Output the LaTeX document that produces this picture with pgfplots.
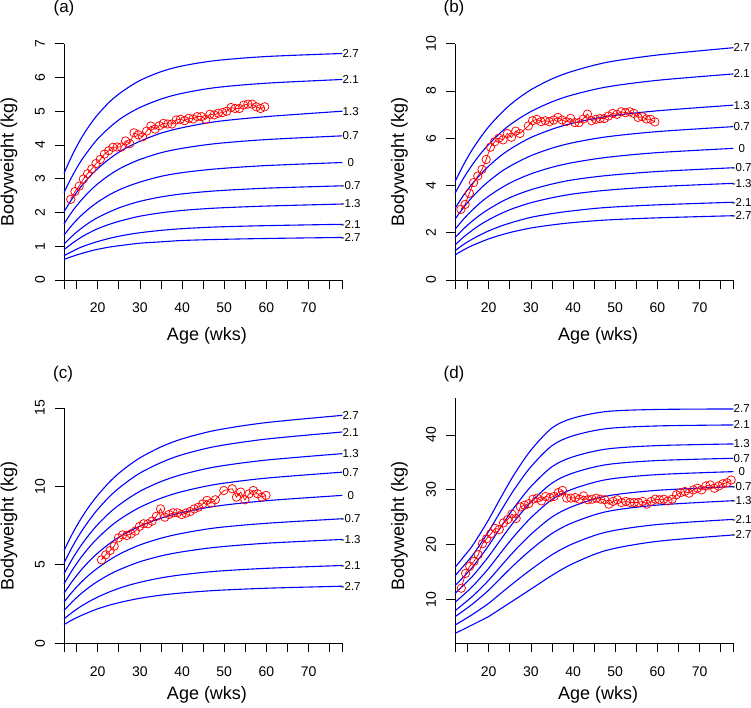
\documentclass[border=0pt]{standalone}
\usepackage{fontspec}
\setmainfont{Liberation Sans}
\usepackage{pgfplots}
\pgfplotsset{compat=1.18}

\tikzset{zl/.style={pos=1, anchor=center, xshift=8.4pt, text=black, font=\fontsize{11.5}{11.5}\selectfont}}
\pgfplotsset{
  panel/.style={
    scale only axis,
    width=278.3pt,
    anchor=south west,
    xmin=12, xmax=78,
    axis x line*=bottom, axis y line*=left,
    axis line style={-, line width=0.8pt, black},
    tick align=outside,
    major tick length=9pt,
    every tick/.style={black, line width=0.8pt},
    xtick={20,30,...,70},
    extra x ticks={12,15,25,35,45,55,65,75,78},
    extra x tick labels={},
    /pgf/number format/assume math mode=true,
    ticklabel style={font=\fontsize{14}{14}\selectfont},
    xticklabel style={anchor=center, yshift=-19pt},
    yticklabel style={xshift=-15pt, rotate=90, anchor=center},
    clip=false,
  },
  zc/.style={blue, line width=1.1pt, smooth, no markers},
  obs/.style={red, line width=0.75pt, mark=o, mark size=4.2pt, mark options={solid, line width=0.75pt}},
}

\begin{document}
\begin{tikzpicture}[x=1pt,y=1pt]
\path[use as bounding box] (0,0) rectangle (751,708);

% ---------------- (a)
\begin{axis}[panel, at={(64pt,428pt)}, height=236.3pt, ymin=0, ymax=7, ytick={0,1,...,7}]
\addplot[zc] coordinates {(12,3.16) (14,3.71) (16,4.18) (18,4.57) (20,4.90) (23,5.30) (26,5.60) (30,5.91) (35,6.17) (40,6.34) (48,6.50) (60,6.62) (78,6.71)} node[zl]{2.7};
\addplot[zc] coordinates {(12,2.59) (14,3.09) (16,3.52) (18,3.87) (20,4.18) (23,4.54) (26,4.83) (30,5.11) (35,5.36) (40,5.53) (48,5.70) (60,5.83) (78,5.94)} node[zl]{2.1};
\addplot[zc] coordinates {(12,2.02) (14,2.42) (16,2.76) (18,3.05) (20,3.30) (23,3.61) (26,3.86) (30,4.11) (35,4.35) (40,4.51) (48,4.69) (60,4.84) (78,5.00)} node[zl]{1.3};
\addplot[zc] coordinates {(12,1.66) (14,2.04) (16,2.35) (18,2.62) (20,2.85) (23,3.13) (26,3.35) (30,3.57) (35,3.77) (40,3.90) (48,4.04) (60,4.16) (78,4.27)} node[zl]{0.7};
\addplot[zc] coordinates {(12,1.33) (14,1.64) (16,1.90) (18,2.12) (20,2.31) (23,2.54) (26,2.72) (30,2.90) (35,3.07) (40,3.18) (48,3.29) (60,3.39) (78,3.48)} node[zl]{0};
\addplot[zc] coordinates {(12,1.06) (14,1.31) (16,1.52) (18,1.70) (20,1.85) (23,2.03) (26,2.18) (30,2.33) (35,2.46) (40,2.55) (48,2.64) (60,2.72) (78,2.79)} node[zl]{-0.7};
\addplot[zc] coordinates {(12,0.90) (14,1.09) (16,1.26) (18,1.40) (20,1.52) (23,1.66) (26,1.77) (30,1.89) (35,1.99) (40,2.06) (48,2.13) (60,2.19) (78,2.25)} node[zl]{-1.3};
\addplot[zc] coordinates {(12,0.72) (14,0.85) (16,0.97) (18,1.06) (20,1.14) (23,1.24) (26,1.32) (30,1.40) (35,1.47) (40,1.52) (48,1.57) (60,1.61) (78,1.65)} node[zl]{-2.1};
\addplot[zc] coordinates {(12,0.61) (14,0.70) (16,0.78) (18,0.85) (20,0.91) (23,0.98) (26,1.03) (30,1.09) (35,1.13) (40,1.17) (48,1.20) (60,1.23) (78,1.26)} node[zl]{-2.7};
\addplot[obs] coordinates {(13.6,2.39) (14.6,2.62) (15.6,2.78) (16.6,2.99) (17.6,3.15) (18.6,3.29) (19.6,3.45) (20.6,3.57) (21.6,3.73) (22.6,3.83) (23.6,3.93) (24.6,3.94) (25.6,3.94) (26.6,4.12) (27.6,4.04) (28.6,4.36) (29.6,4.30) (30.6,4.24) (31.6,4.41) (32.6,4.56) (33.6,4.47) (34.6,4.57) (35.6,4.64) (36.6,4.62) (37.6,4.62) (38.6,4.74) (39.6,4.76) (40.6,4.72) (41.6,4.79) (42.6,4.77) (43.6,4.84) (44.6,4.84) (45.6,4.76) (46.6,4.91) (47.6,4.89) (48.6,4.94) (49.6,4.96) (50.6,5.00) (51.6,5.11) (52.6,5.08) (53.6,5.08) (54.6,5.18) (55.6,5.21) (56.6,5.21) (57.6,5.13) (58.6,5.08) (59.6,5.13)};
\end{axis}

% ---------------- (b)
\begin{axis}[panel, at={(455pt,428pt)}, height=236.3pt, ymin=0, ymax=10, ytick={0,2,...,10}]
\addplot[zc] coordinates {(12,4.16) (14,4.87) (16,5.49) (18,6.02) (20,6.49) (23,7.07) (26,7.55) (30,8.05) (35,8.51) (40,8.84) (48,9.21) (60,9.52) (78,9.83)} node[zl]{2.7};
\addplot[zc] coordinates {(12,3.67) (14,4.30) (16,4.85) (18,5.33) (20,5.74) (23,6.27) (26,6.69) (30,7.13) (35,7.54) (40,7.84) (48,8.17) (60,8.45) (78,8.72)} node[zl]{2.1};
\addplot[zc] coordinates {(12,3.03) (14,3.58) (16,4.05) (18,4.46) (20,4.82) (23,5.28) (26,5.64) (30,6.03) (35,6.38) (40,6.64) (48,6.92) (60,7.16) (78,7.40)} node[zl]{1.3};
\addplot[zc] coordinates {(12,2.57) (14,3.06) (16,3.49) (18,3.86) (20,4.18) (23,4.59) (26,4.91) (30,5.26) (35,5.58) (40,5.81) (48,6.06) (60,6.28) (78,6.49)} node[zl]{0.7};
\addplot[zc] coordinates {(12,2.14) (14,2.57) (16,2.94) (18,3.27) (20,3.55) (23,3.90) (26,4.19) (30,4.49) (35,4.77) (40,4.97) (48,5.19) (60,5.39) (78,5.57)} node[zl]{0};
\addplot[zc] coordinates {(12,1.79) (14,2.16) (16,2.48) (18,2.76) (20,3.00) (23,3.31) (26,3.56) (30,3.82) (35,4.06) (40,4.24) (48,4.42) (60,4.59) (78,4.75)} node[zl]{-0.7};
\addplot[zc] coordinates {(12,1.48) (14,1.81) (16,2.09) (18,2.34) (20,2.55) (23,2.82) (26,3.04) (30,3.27) (35,3.48) (40,3.64) (48,3.80) (60,3.95) (78,4.09)} node[zl]{-1.3};
\addplot[zc] coordinates {(12,1.24) (14,1.50) (16,1.72) (18,1.91) (20,2.08) (23,2.29) (26,2.46) (30,2.65) (35,2.81) (40,2.93) (48,3.07) (60,3.18) (78,3.29)} node[zl]{-2.1};
\addplot[zc] coordinates {(12,1.06) (14,1.27) (16,1.45) (18,1.60) (20,1.74) (23,1.91) (26,2.05) (30,2.20) (35,2.33) (40,2.43) (48,2.54) (60,2.63) (78,2.72)} node[zl]{-2.7};
\addplot[obs] coordinates {(13.4,2.99) (14.4,3.20) (15.4,3.67) (16.4,4.12) (17.4,4.40) (18.4,4.68) (19.4,5.10) (20.4,5.62) (21.4,5.85) (22.4,6.00) (23.4,5.93) (24.4,6.20) (25.4,6.04) (26.4,6.30) (27.4,6.20) (29.4,6.52) (30.4,6.74) (31.4,6.80) (32.4,6.70) (33.4,6.74) (34.4,6.70) (35.4,6.77) (36.4,6.88) (37.4,6.77) (38.4,6.70) (39.4,6.84) (40.4,6.66) (41.4,6.66) (42.4,6.81) (43.4,7.02) (44.4,6.74) (45.4,6.80) (46.4,6.83) (47.4,6.83) (48.4,6.94) (49.4,7.05) (50.4,7.01) (51.4,7.12) (52.4,7.08) (53.4,7.12) (54.4,7.05) (55.4,6.88) (56.4,6.91) (57.4,6.81) (58.4,6.80) (59.4,6.69)};
\end{axis}

% ---------------- (c)
\begin{axis}[panel, at={(64pt,64.7pt)}, height=235.3pt, ymin=0, ymax=15, ytick={0,5,10,15}]
\addplot[zc] coordinates {(12,5.91) (14,6.99) (16,7.93) (18,8.74) (20,9.44) (23,10.34) (26,11.06) (30,11.82) (35,12.52) (40,13.03) (48,13.58) (60,14.07) (78,14.53)} node[zl]{2.7};
\addplot[zc] coordinates {(12,5.11) (14,6.16) (16,7.07) (18,7.85) (20,8.54) (23,9.41) (26,10.10) (30,10.85) (35,11.52) (40,12.02) (48,12.55) (60,13.02) (78,13.47)} node[zl]{2.1};
\addplot[zc] coordinates {(12,4.43) (14,5.39) (16,6.22) (18,6.94) (20,7.57) (23,8.37) (26,9.00) (30,9.69) (35,10.31) (40,10.76) (48,11.25) (60,11.68) (78,12.09)} node[zl]{1.3};
\addplot[zc] coordinates {(12,3.79) (14,4.68) (16,5.46) (18,6.13) (20,6.71) (23,7.45) (26,8.04) (30,8.67) (35,9.25) (40,9.67) (48,10.13) (60,10.53) (78,10.91)} node[zl]{0.7};
\addplot[zc] coordinates {(12,3.19) (14,3.97) (16,4.65) (18,5.24) (20,5.75) (23,6.40) (26,6.92) (30,7.47) (35,7.98) (40,8.34) (48,8.74) (60,9.09) (78,9.43)} node[zl]{0};
\addplot[zc] coordinates {(12,2.62) (14,3.29) (16,3.87) (18,4.37) (20,4.80) (23,5.35) (26,5.80) (30,6.27) (35,6.70) (40,7.01) (48,7.36) (60,7.65) (78,7.94)} node[zl]{-0.7};
\addplot[zc] coordinates {(12,2.09) (14,2.66) (16,3.15) (18,3.58) (20,3.95) (23,4.42) (26,4.79) (30,5.20) (35,5.57) (40,5.83) (48,6.12) (60,6.38) (78,6.62)} node[zl]{-1.3};
\addplot[zc] coordinates {(12,1.55) (14,1.98) (16,2.35) (18,2.67) (20,2.95) (23,3.30) (26,3.59) (30,3.89) (35,4.17) (40,4.37) (48,4.59) (60,4.78) (78,4.96)} node[zl]{-2.1};
\addplot[zc] coordinates {(12,1.19) (14,1.50) (16,1.76) (18,1.99) (20,2.20) (23,2.45) (26,2.65) (30,2.87) (35,3.07) (40,3.21) (48,3.37) (60,3.51) (78,3.64)} node[zl]{-2.7};
\addplot[obs] coordinates {(20.9,5.32) (21.9,5.64) (22.9,5.91) (23.9,6.19) (24.9,6.72) (25.9,6.91) (26.9,6.87) (27.9,6.98) (28.9,7.15) (29.9,7.45) (30.9,7.62) (31.9,7.62) (32.9,7.79) (33.9,8.09) (34.9,8.57) (35.9,8.04) (36.9,8.21) (37.9,8.32) (38.9,8.32) (39.9,8.21) (40.9,8.30) (41.9,8.40) (42.9,8.57) (43.9,8.68) (44.9,8.89) (45.9,9.11) (46.9,8.94) (47.9,9.15) (49.9,9.74) (51.9,9.85) (52.9,9.32) (53.9,9.64) (54.9,9.15) (55.9,9.53) (56.9,9.74) (57.9,9.53) (58.9,9.32) (59.9,9.43)};
\end{axis}

% ---------------- (d)
\begin{axis}[panel, at={(455pt,64.7pt)}, height=245.6pt, ymin=2.07, ymax=46.78, ytick={10,20,30,40}]
\addplot[zc] coordinates {(12,15.88) (14,17.76) (16,19.69) (18,22.08) (20,24.62) (23,28.78) (26,32.76) (30,37.23) (35,41.27) (40,43.06) (48,44.27) (60,44.64) (78,44.73)} node[zl]{2.7};
\addplot[zc] coordinates {(12,14.37) (14,16.12) (16,17.92) (18,20.13) (20,22.47) (23,26.32) (26,30.02) (30,34.21) (35,38.05) (40,39.85) (48,41.15) (60,41.64) (78,41.82)} node[zl]{2.1};
\addplot[zc] coordinates {(12,12.55) (14,14.15) (16,15.79) (18,17.78) (20,19.90) (23,23.39) (26,26.76) (30,30.60) (35,34.21) (40,36.02) (48,37.44) (60,38.06) (78,38.36)} node[zl]{1.3};
\addplot[zc] coordinates {(12,11.15) (14,12.62) (16,14.14) (18,15.97) (20,17.90) (23,21.11) (26,24.21) (30,27.78) (35,31.23) (40,33.07) (48,34.60) (60,35.34) (78,35.75)} node[zl]{0.7};
\addplot[zc] coordinates {(12,9.51) (14,10.88) (16,12.30) (18,13.97) (20,15.73) (23,18.69) (26,21.56) (30,24.92) (35,28.25) (40,30.17) (48,31.88) (60,32.78) (78,33.32)} node[zl]{0};
\addplot[zc] coordinates {(12,7.99) (14,9.24) (16,10.52) (18,12.00) (20,13.57) (23,16.23) (26,18.81) (30,21.90) (35,25.06) (40,27.02) (48,28.88) (60,29.92) (78,30.59)} node[zl]{-0.7};
\addplot[zc] coordinates {(12,6.90) (14,8.00) (16,9.13) (18,10.41) (20,11.75) (23,14.07) (26,16.34) (30,19.10) (35,22.06) (40,24.06) (48,26.05) (60,27.23) (78,28.03)} node[zl]{-1.3};
\addplot[zc] coordinates {(12,5.38) (14,6.30) (16,7.25) (18,8.28) (20,9.35) (23,11.25) (26,13.12) (30,15.49) (35,18.19) (40,20.21) (48,22.34) (60,23.69) (78,24.63)} node[zl]{-2.1};
\addplot[zc] coordinates {(12,3.87) (14,4.62) (16,5.39) (18,6.16) (20,6.95) (23,8.44) (26,9.93) (30,11.93) (35,14.44) (40,16.59) (48,19.01) (60,20.63) (78,21.79)} node[zl]{-2.7};
\addplot[obs] coordinates {(13.5,12.1) (14.5,14.8) (15.5,16.1) (16.5,17.0) (17.5,18.2) (18.5,20.2) (19.5,21.1) (20.5,22.0) (21.5,23.0) (22.5,22.8) (23.5,24.0) (24.5,24.6) (25.5,25.6) (26.5,24.8) (27.5,26.9) (28.5,27.2) (29.5,27.5) (30.5,28.3) (31.5,28.5) (32.5,28.0) (33.5,28.8) (34.5,28.6) (35.5,28.8) (36.5,29.5) (37.5,29.9) (38.5,28.5) (39.5,28.5) (40.5,28.6) (41.5,28.3) (42.5,28.9) (43.5,28.2) (44.5,28.3) (45.5,28.5) (46.5,28.3) (47.5,28.2) (48.5,27.4) (49.5,27.9) (50.5,28.2) (51.5,27.7) (52.5,27.9) (53.5,27.7) (54.5,27.7) (55.5,27.7) (56.5,27.9) (57.5,27.4) (58.5,27.9) (59.5,28.3) (60.5,28.2) (61.5,28.3) (62.5,28.0) (63.5,28.3) (64.5,29.1) (65.5,29.5) (66.5,29.7) (67.5,29.4) (68.5,30.0) (69.5,30.3) (70.5,30.0) (71.5,30.7) (72.5,30.9) (73.5,30.3) (74.5,30.7) (75.5,31.1) (76.5,31.3) (77.5,31.8)};
\end{axis}

% titles and axis labels
\begin{scope}[every node/.style={font=\fontsize{17}{17}\selectfont, inner sep=0pt}]
\node at (64,700) {(a)};
\node at (454,700) {(b)};
\node at (63,334) {(c)};
\node at (454,334) {(d)};
\end{scope}
\begin{scope}[every node/.style={font=\fontsize{18}{18}\selectfont, inner sep=0pt}]
\node[rotate=90] at (9,546) {Bodyweight (kg)};
\node[rotate=90] at (399.5,546) {Bodyweight (kg)};
\node[rotate=90] at (9,182) {Bodyweight (kg)};
\node[rotate=90] at (399.5,182) {Bodyweight (kg)};
\node at (207,372) {Age (wks)};
\node at (598,372) {Age (wks)};
\node at (207,13.5) {Age (wks)};
\node at (598,13.5) {Age (wks)};
\end{scope}
\end{tikzpicture}
\end{document}
